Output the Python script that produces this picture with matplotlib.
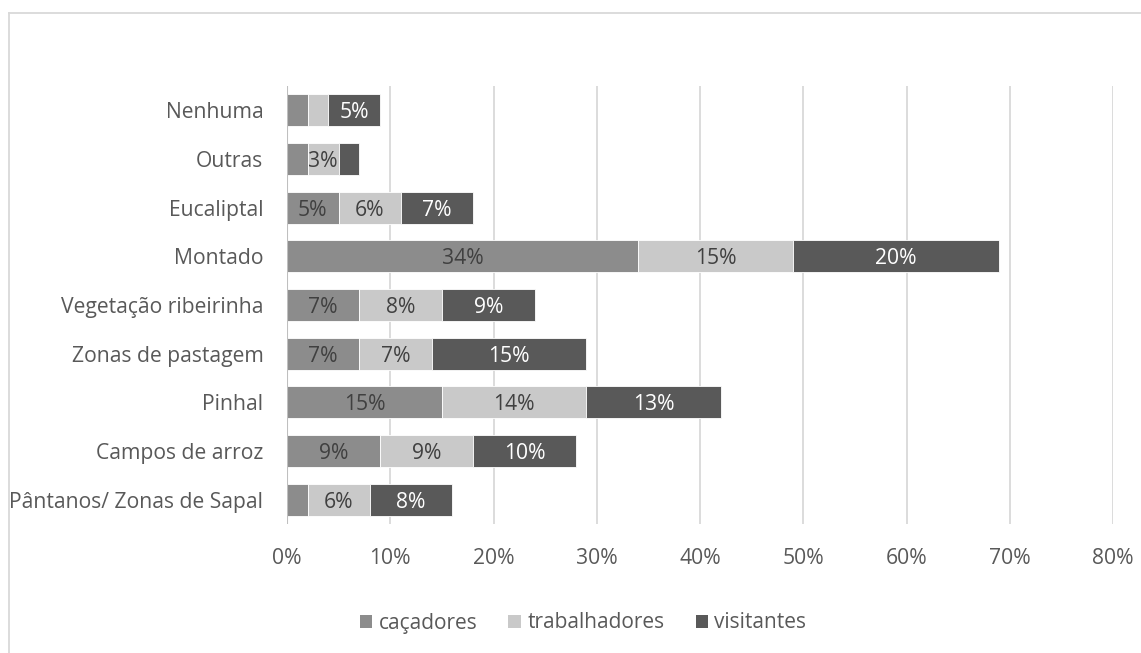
import matplotlib
matplotlib.use("Agg")
import matplotlib.pyplot as plt
from matplotlib.lines import Line2D
from matplotlib.patches import Patch

plt.rcParams['font.family'] = ['Open Sans', 'DejaVu Sans']

categories = ["Pântanos/ Zonas de Sapal", "Campos de arroz", "Pinhal", "Zonas de pastagem",
              "Vegetação ribeirinha", "Montado", "Eucaliptal", "Outras", "Nenhuma"]
cacadores = [2, 9, 15, 7, 7, 34, 5, 2, 2]
trabalhadores = [6, 9, 14, 7, 8, 15, 6, 3, 2]
visitantes = [8, 10, 13, 15, 9, 20, 7, 2, 5]
series_names = ["caçadores", "trabalhadores", "visitantes"]
xticks = [0, 10, 20, 30, 40, 50, 60, 70, 80]

colors = ["#8c8c8c", "#c9c9c9", "#595959"]
label_colors = ["#404040", "#404040", "#ffffff"]
FS = 15.2

fig = plt.figure(figsize=(11.41, 6.53), dpi=100)
ax = fig.add_axes([287/1141, 1-524/653, (1113-287)/1141, (524-86)/653])

y = list(range(len(categories)))
left = [0]*len(categories)
for vals, col, lc, name in zip([cacadores, trabalhadores, visitantes], colors, label_colors, series_names):
    ax.barh(y, vals, left=left, height=0.66, color=col, edgecolor="white",
            linewidth=0.6, label=name, zorder=2)
    for yi, v, l in zip(y, vals, left):
        if v > 2:
            ax.text(l + v/2, yi, f"{v}%", ha="center", va="center_baseline", color=lc,
                    fontsize=FS, zorder=4)
    left = [a + b for a, b in zip(left, vals)]

ax.set_xlim(0, 80)
ax.set_ylim(-0.5, len(categories)-0.5)
ax.set_xticks(xticks)
ax.set_xticklabels([f"{t}%" for t in xticks])
ax.set_yticks(y)
ax.set_yticklabels(categories)
ax.tick_params(axis="both", length=0, labelsize=FS, labelcolor="#595959")
ax.tick_params(axis="x", pad=17)
ax.tick_params(axis="y", pad=17)
for s in ax.spines.values():
    s.set_visible(False)
ax.xaxis.grid(True, color="#d9d9d9", linewidth=1.3, zorder=0)
ax.set_axisbelow(True)
ax.axvline(0, color="#bfbfbf", linewidth=1.5, zorder=3)

handles = [Patch(facecolor=c, edgecolor="none") for c in colors]
leg = fig.legend(handles, series_names, loc="center", bbox_to_anchor=(583/1141, 1-623/653),
                 ncol=3, frameon=False, fontsize=15, handlelength=0.6, handleheight=0.6,
                 handletextpad=0.3, columnspacing=1.5)
for t in leg.get_texts():
    t.set_color("#595959")

# outer border (top and left)
fig.add_artist(Line2D([9/1141, 1], [1-13/653, 1-13/653], transform=fig.transFigure,
                      color="#d9d9d9", linewidth=1.3))
fig.add_artist(Line2D([9/1141, 9/1141], [0, 1-13/653], transform=fig.transFigure,
                      color="#d9d9d9", linewidth=1.3))

fig.savefig("out.png", dpi=100)
